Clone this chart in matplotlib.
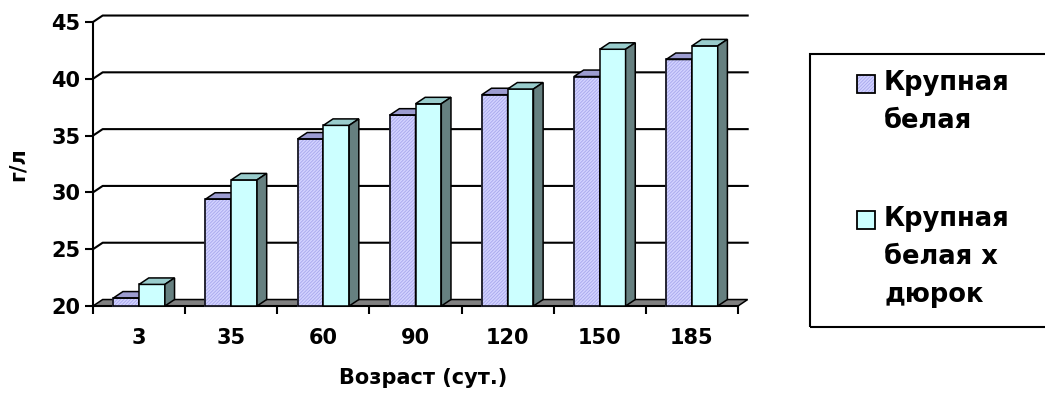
import matplotlib

matplotlib.use("Agg")
import matplotlib.pyplot as plt
from matplotlib.patches import Polygon, Rectangle

plt.rcParams["font.family"] = ["DejaVu Sans"]
plt.rcParams["font.weight"] = "bold"
plt.rcParams["hatch.linewidth"] = 0.6

# Показатель крови по возрасту, г/л
ages = ["3", "35", "60", "90", "120", "150", "185"]
large_white = [20.7, 29.4, 34.7, 36.8, 38.6, 40.2, 41.7]
large_white_duroc = [21.9, 31.1, 35.9, 37.8, 39.1, 42.6, 42.9]
series_names = ["Крупная\nбелая", "Крупная\nбелая х\nдюрок"]
y_ticks = [20, 25, 30, 35, 40, 45]

W, H = 1045, 394
PURPLE, PURPLE_TOP, PURPLE_HATCH = "#D2D2FF", "#9C9CD0", "#A8A8EC"
CYAN, CYAN_TOP, SIDE = "#CCFFFF", "#99CCCC", "#668080"
FLOOR = "#808080"
DX, DY = 0.105, 0.57      # depth offset of the pseudo-3D boxes (data units)
BW = 0.28                 # bar width in category units


def fx(x):
    return x / W


def fy(y):
    return 1 - y / H


def box(ax, x0, v, face, top, side, hatch=None, z=3):
    x1 = x0 + BW
    ax.add_patch(Polygon([(x0, 20), (x1, 20), (x1, v), (x0, v)], closed=True,
                         facecolor=face, edgecolor="black", lw=1.1, hatch=hatch,
                         zorder=z, clip_on=False))
    ax.add_patch(Polygon([(x0, v), (x1, v), (x1 + DX, v + DY), (x0 + DX, v + DY)],
                         closed=True, facecolor=top, edgecolor="black", lw=1.1,
                         zorder=z, clip_on=False))
    ax.add_patch(Polygon([(x1, 20), (x1 + DX, 20 + DY), (x1 + DX, v + DY), (x1, v)],
                         closed=True, facecolor=side, edgecolor="black", lw=1.1,
                         zorder=z, clip_on=False))


fig = plt.figure(figsize=(W / 100, H / 100), dpi=100)
ax = fig.add_axes([fx(93), fy(306), fx(738) - fx(93), fy(22) - fy(306)])
n = len(ages)
ax.set_xlim(0, n)
ax.set_ylim(20, 45)
for s in ["top", "right"]:
    ax.spines[s].set_visible(False)
ax.spines["left"].set_linewidth(1.5)
ax.spines["bottom"].set_linewidth(1.5)
ax.patch.set_visible(False)

# back wall gridlines
for v in y_ticks[1:]:
    ax.plot([0, DX, n + DX], [v, v + DY, v + DY], color="black", lw=1.5,
            zorder=1, clip_on=False)

# floor
ax.add_patch(Polygon([(0, 20), (n, 20), (n + DX, 20 + DY), (DX, 20 + DY)],
                     closed=True, facecolor=FLOOR, edgecolor="black", lw=1.1,
                     zorder=2, clip_on=False))

for i in range(n):
    c = i + 0.5
    box(ax, c - BW, large_white[i], PURPLE, PURPLE_TOP, SIDE, hatch="//////////", z=3)
    box(ax, c, large_white_duroc[i], CYAN, CYAN_TOP, SIDE, z=4)

for p in ax.patches:
    if p.get_hatch():
        p.set_edgecolor(PURPLE_HATCH)
# redraw outlines of hatched faces in black
for i in range(n):
    c = i + 0.5
    ax.add_patch(Rectangle((c - BW, 20), BW, large_white[i] - 20, fill=False,
                           edgecolor="black", lw=1.1, zorder=3.5, clip_on=False))

ax.set_yticks(y_ticks)
ax.tick_params(axis="y", length=6, width=1.5, pad=3, labelsize=15)
ax.set_xticks(range(n + 1))
ax.set_xticklabels([])
ax.set_xticks([i + 0.5 for i in range(n)], minor=True)
ax.set_xticklabels(ages, minor=True)
ax.tick_params(axis="x", which="major", length=6, width=1.5, direction="out")
ax.tick_params(axis="x", which="minor", length=0, pad=16, labelsize=15)

fig.text(fx(423), fy(378), "Возраст (сут.)", ha="center", va="center",
         fontsize=15, fontweight="bold")
fig.text(fx(18), fy(164), "г/л", ha="center", va="center", rotation=90,
         fontsize=15, fontweight="bold")

# legend box
fig.add_artist(Rectangle((fx(810), fy(327)), fx(1050) - fx(810), fy(54) - fy(327),
                         transform=fig.transFigure, fill=False,
                         edgecolor="black", lw=1.5))
marks = [(84, PURPLE, "//////////"), (220, CYAN, None)]
for (yc, col, hatch), name in zip(marks, series_names):
    rect = ((fx(857), fy(yc + 9)), fx(875) - fx(857), fy(yc - 9) - fy(yc + 9))
    fig.add_artist(Rectangle(*rect, transform=fig.transFigure, facecolor=col,
                             edgecolor=PURPLE_HATCH if hatch else "black",
                             lw=0, hatch=hatch))
    fig.add_artist(Rectangle(*rect, transform=fig.transFigure, fill=False,
                             edgecolor="black", lw=1.3))
    fig.text(fx(884), fy(yc - 14), name, ha="left", va="top", fontsize=18.5,
             fontweight="bold", linespacing=1.6)

fig.savefig("out.png", dpi=100)
